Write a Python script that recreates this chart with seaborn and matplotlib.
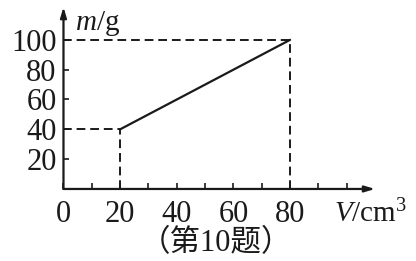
import matplotlib
matplotlib.use("Agg")
import matplotlib.pyplot as plt
import seaborn as sns
import pandas as pd

# data
volume = [20, 80]          # V / cm^3
mass = [40, 100]           # m / g
x_ticks = [0, 10, 20, 30, 40, 50, 60, 70, 80, 90, 100]
x_labels = ["0", "", "20", "", "40", "", "60", "", "80", "", ""]
y_ticks = [20, 40, 60, 80, 100]
y_labels = ["20", "40", "60", "80", "100"]
caption = "（第10题）"

sns.set_style("white")
plt.rcParams["font.family"] = ["Liberation Serif", "Noto Sans CJK SC"]
plt.rcParams["mathtext.fontset"] = "custom"
plt.rcParams["mathtext.rm"] = "Liberation Serif"
plt.rcParams["mathtext.it"] = "Liberation Serif:italic"

fig = plt.figure(figsize=(4.16, 2.61), dpi=100)
ax = fig.add_axes([0.1526, 0.276, 0.749, 0.697])
ax.set_xlim(0, 110)
ax.set_ylim(0, 122)

df = pd.DataFrame({"V": volume, "m": mass})
sns.lineplot(data=df, x="V", y="m", ax=ax, color="#1a1a1a", linewidth=1.6)

dash = dict(color="#1a1a1a", linewidth=1.4, linestyle=(0, (4.5, 2.5)))
for v, m in zip(volume, mass):
    ax.plot([0, v], [m, m], **dash)
    ax.plot([v, v], [0, m], **dash)

for s in ax.spines.values():
    s.set_visible(False)
ax.annotate("", xy=(110, 0), xytext=(0, 0), xycoords="data",
            arrowprops=dict(arrowstyle="-|>,head_length=0.6,head_width=0.18",
                            color="#1a1a1a", lw=1.6, shrinkA=0, shrinkB=0),
            annotation_clip=False)
ax.annotate("", xy=(0, 122), xytext=(0, 0), xycoords="data",
            arrowprops=dict(arrowstyle="-|>,head_length=0.6,head_width=0.18",
                            color="#1a1a1a", lw=1.6, shrinkA=0, shrinkB=0),
            annotation_clip=False)

ax.set_xticks(x_ticks)
ax.set_xticklabels(x_labels)
ax.set_yticks(y_ticks)
ax.set_yticklabels(y_labels)
ax.tick_params(axis="both", direction="in", length=4, width=1.2,
               color="#1a1a1a", labelsize=22, labelcolor="#1a1a1a")
ax.tick_params(axis="x", pad=8, bottom=True)
ax.tick_params(axis="y", pad=5, left=True)
ax.set_xlabel("")
ax.set_ylabel("")
ax.grid(False)

fig.text(75 / 416, 1 - 24 / 261, "$m$/g", fontsize=21, color="#1a1a1a",
         ha="left", va="center")
fig.text(334 / 416, 1 - 214 / 261, "$V$/cm$^{3}$", fontsize=21, color="#1a1a1a",
         ha="left", va="center")
fig.text(216 / 416, 1 - 244 / 261, caption, fontsize=22, color="#1a1a1a",
         ha="center", va="center")

fig.savefig("out.png", dpi=100)
